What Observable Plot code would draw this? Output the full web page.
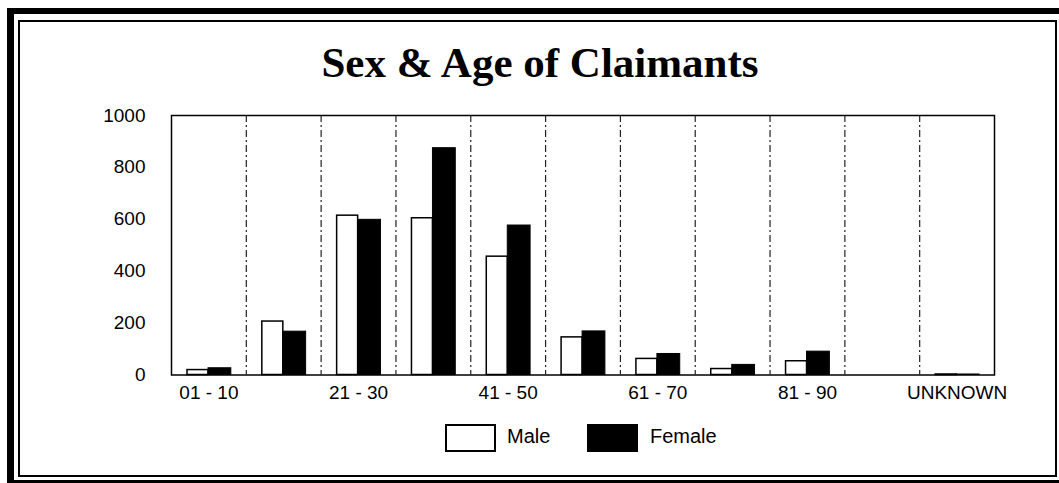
<!DOCTYPE html>
<html>
<head>
<meta charset="utf-8">
<script src="https://cdn.jsdelivr.net/npm/d3@7"></script>
<script src="https://cdn.jsdelivr.net/npm/@observablehq/plot@0.6"></script>
<style>
  html, body { margin: 0; padding: 0; background: #fff; overflow: hidden; }
  #root { position: relative; width: 1059px; height: 483px; overflow: hidden; background: #fff; }
  .outer { position: absolute; left: 7px; top: 8px; width: 1070px; height: 478px; box-sizing: border-box;
           border-left: 7px solid #000; border-top: 6px solid #000; border-bottom: 6px solid #000; }
  .inner { position: absolute; left: 18px; top: 20px; width: 1039px; height: 457px; box-sizing: border-box;
           border: 2px solid #000; }
  .title { position: absolute; left: 0; top: 41px; width: 1080px; text-align: center;
           font-family: "Liberation Serif", "Times New Roman", serif; font-weight: bold; font-size: 43px;
           line-height: 1; color: #000; }
  #chart { position: absolute; left: 0; top: 95px; }
  .lg-box { position: absolute; top: 424px; width: 51px; height: 28px; box-sizing: border-box; border: 2px solid #000; }
  .lg-text { position: absolute; top: 426px; font-family: "Liberation Sans", Arial, sans-serif; font-size: 20px; line-height: 1; color: #000; }
</style>
</head>
<body>
<div id="root">
  <div class="outer"></div>
  <div class="inner"></div>
  <div class="title" id="title"></div>
  <div id="chart"></div>
  <div id="legend"></div>
</div>
<script>
const titleText = "Sex & Age of Claimants";
const categories = ["01 - 10","11 - 20","21 - 30","31 - 40","41 - 50","51 - 60","61 - 70","71 - 80","81 - 90","91 - 100","UNKNOWN"];
const shownLabels = ["01 - 10","21 - 30","41 - 50","61 - 70","81 - 90","UNKNOWN"];
const series = ["Male","Female"];
const male   = [19, 206, 614, 604, 456, 145, 62, 23, 53, 0, 2];
const female = [26, 167, 598, 874, 576, 168, 81, 39, 90, 0, 2];
const yTicks = [0, 200, 400, 600, 800, 1000];

document.getElementById("title").textContent = titleText;

const W = 1059, H = 310, ML = 171, MR = 65, MT = 20, MB = 30.5;
const bw = (W - ML - MR) / categories.length;

const maleData = categories.map((c, i) => ({cat: c, value: male[i]}));
const femaleData = categories.map((c, i) => ({cat: c, value: female[i]}));

const chart = Plot.plot({
  width: W, height: H,
  marginLeft: ML, marginRight: MR, marginTop: MT, marginBottom: MB,
  style: {fontFamily: '"Liberation Sans", Arial, sans-serif', fontSize: "19px", color: "#000", background: "transparent"},
  x: {domain: categories, padding: 0, round: false, label: null},
  y: {domain: [0, 1000], label: null},
  marks: [
    Plot.ruleX(categories.slice(1), {x: d => d, dx: -bw / 2, stroke: "#222", strokeWidth: 1.2, strokeDasharray: "7,3,2,3"}),
    Plot.barY(maleData, {x: "cat", y: "value", fill: "white", stroke: "black", strokeWidth: 1.5, insetLeft: 16, insetRight: bw - 37}),
    Plot.barY(femaleData, {x: "cat", y: "value", fill: "black", stroke: "black", strokeWidth: 1, insetLeft: 37, insetRight: 15}),
    Plot.frame({stroke: "black", strokeWidth: 1.5}),
    Plot.axisY({ticks: yTicks, tickFormat: d => String(d), tickSize: 0, tickPadding: 26, label: null, fill: "#000"}),
    Plot.axisX({ticks: shownLabels, tickSize: 0, tickPadding: 10, label: null, fill: "#000"})
  ]
});
document.getElementById("chart").appendChild(chart);

// legend
const legendPos = [{box: 445, text: 507}, {box: 587, text: 650}];
const legendFill = ["#fff", "#000"];
const lg = document.getElementById("legend");
series.forEach((s, i) => {
  const b = document.createElement("div");
  b.className = "lg-box";
  b.style.left = legendPos[i].box + "px";
  b.style.background = legendFill[i];
  lg.appendChild(b);
  const t = document.createElement("div");
  t.className = "lg-text";
  t.style.left = legendPos[i].text + "px";
  t.textContent = s;
  lg.appendChild(t);
});
</script>
</body>
</html>
